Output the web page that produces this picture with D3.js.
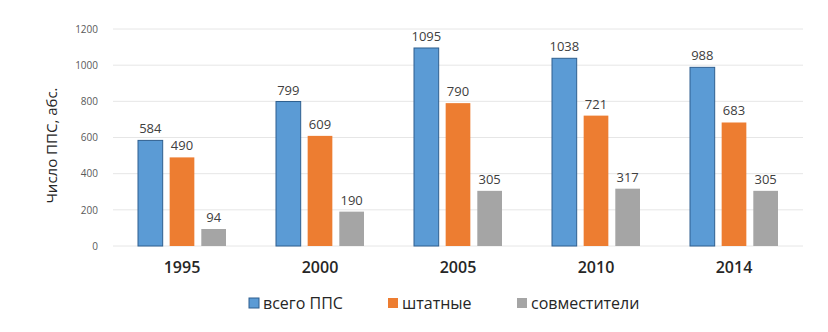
<!DOCTYPE html>
<html>
<head>
<meta charset="utf-8">
<script src="https://cdn.jsdelivr.net/npm/d3@7"></script>
<style>
  body { margin: 0; background: #fff; }
  svg { font-family: "Open Sans", Lato, sans-serif; }
</style>
</head>
<body>
<svg id="chart" width="828" height="332"></svg>
<script>
// Data
var years = ["1995", "2000", "2005", "2010", "2014"];
var seriesNames = ["всего ППС", "штатные", "совместители"];
var total = [584, 799, 1095, 1038, 988];
var staff = [490, 609, 790, 721, 683];
var parttime = [94, 190, 305, 317, 305];
var yTicks = [0, 200, 400, 600, 800, 1000, 1200];

var colors = ["#5b9bd5", "#ed7d31", "#a5a5a5"];
var strokes = ["#2f5f8f", "none", "none"];

var svg = d3.select("#chart");

// Plot area
var margin = {top: 29, right: 25, bottom: 86, left: 113};
var width = 828 - margin.left - margin.right;
var height = 332 - margin.top - margin.bottom;

var g = svg.append("g")
    .attr("transform", "translate(" + margin.left + "," + margin.top + ")");

var x0 = d3.scaleBand().domain(years).range([0, width]);
var x1 = d3.scaleBand().domain(seriesNames)
    .range([x0.bandwidth() / 2 - 44, x0.bandwidth() / 2 + 44])
    .paddingInner(0.22);
var y = d3.scaleLinear().domain([0, 1200]).range([height, 0]);

// Grid lines
g.append("g")
    .selectAll("line")
    .data(yTicks)
    .enter()
    .append("line")
    .attr("x1", 0)
    .attr("x2", width)
    .attr("y1", function(d) { return y(d); })
    .attr("y2", function(d) { return y(d); })
    .attr("stroke", "#e6e6e6")
    .attr("stroke-width", 1);

// Y axis labels
var yAxis = d3.axisLeft(y).tickValues(yTicks).tickFormat(d3.format("d")).tickSize(0).tickPadding(15);
g.append("g")
    .call(yAxis)
    .call(function(a) { a.select(".domain").remove(); })
    .selectAll("text")
    .attr("fill", "#595959")
    .style("font-family", "'Open Sans', sans-serif")
    .style("font-size", "10px");

// Y axis title
svg.append("text")
    .attr("transform", "translate(57," + (margin.top + height / 2 + 8) + ") rotate(-90)")
    .attr("text-anchor", "middle")
    .attr("fill", "#262626")
    .style("font-size", "15px")
    .text("Число ППС, абс.");

// X axis labels
var xAxis = d3.axisBottom(x0).tickSize(0).tickPadding(16);
g.append("g")
    .attr("transform", "translate(0," + height + ")")
    .call(xAxis)
    .call(function(a) { a.select(".domain").remove(); })
    .selectAll("text")
    .attr("fill", "#262626")
    .style("font-family", "'Open Sans', sans-serif")
    .style("font-size", "16px")
    .style("font-weight", "600");

// Bars
var rows = years.map(function(yr, i) {
  return {year: yr, values: [total[i], staff[i], parttime[i]]};
});

var groups = g.selectAll(".group")
    .data(rows)
    .enter()
    .append("g")
    .attr("class", "group")
    .attr("transform", function(d) { return "translate(" + x0(d.year) + ",0)"; });

groups.selectAll("rect")
    .data(function(d) { return d.values.map(function(v, k) { return {name: seriesNames[k], k: k, v: v}; }); })
    .enter()
    .append("rect")
    .attr("x", function(d) { return x1(d.name); })
    .attr("y", function(d) { return y(d.v); })
    .attr("width", x1.bandwidth())
    .attr("height", function(d) { return height - y(d.v); })
    .attr("fill", function(d) { return colors[d.k]; })
    .attr("stroke", function(d) { return strokes[d.k]; })
    .attr("stroke-width", 1);

groups.selectAll(".val")
    .data(function(d) { return d.values.map(function(v, k) { return {name: seriesNames[k], k: k, v: v}; }); })
    .enter()
    .append("text")
    .attr("class", "val")
    .attr("x", function(d) { return x1(d.name) + x1.bandwidth() / 2; })
    .attr("y", function(d) { return y(d.v) - 7; })
    .attr("text-anchor", "middle")
    .attr("fill", "#404040")
    .style("font-size", "13px")
    .text(function(d) { return d.v; });

// Legend
var legendX = [249, 388, 517];
var legend = svg.append("g")
    .selectAll("g")
    .data(seriesNames)
    .enter()
    .append("g")
    .attr("transform", function(d, i) { return "translate(" + legendX[i] + ",303)"; });

legend.append("rect")
    .attr("x", 0)
    .attr("y", -5)
    .attr("width", 10)
    .attr("height", 10)
    .attr("fill", function(d, i) { return colors[i]; })
    .attr("stroke", function(d, i) { return strokes[i]; });

legend.append("text")
    .attr("x", 14)
    .attr("y", 0)
    .attr("dy", "0.35em")
    .attr("fill", "#262626")
    .style("font-size", "16px")
    .text(function(d) { return d; });
</script>
</body>
</html>
